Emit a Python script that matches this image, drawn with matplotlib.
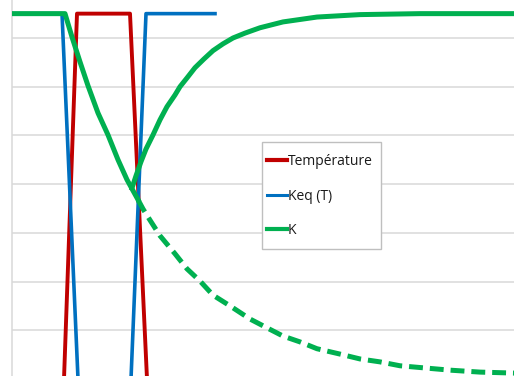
import matplotlib
matplotlib.use("Agg")
import matplotlib.pyplot as plt
from matplotlib.lines import Line2D
from matplotlib.patches import Rectangle

# time axis (arbitrary units) and levels
temp_t = [0, 1.04, 1.30, 2.36, 2.70, 4.06]
temp_v = [0, 0, 7.5, 7.5, 0, 0]

keq_t = [0, 1.00, 1.32, 2.38, 2.68, 4.06]
keq_v = [7.5, 7.5, 0, 0, 7.5, 7.5]

# K: flat, then decay (solid up to the switch)
k_decay_t = [0, 1.00, 1.06, 1.20, 1.36, 1.52, 1.72, 1.92, 2.12, 2.30, 2.52]
k_decay_v = [7.5, 7.5, 7.5, 7.02, 6.51, 6.02, 5.46, 5.01, 4.50, 4.09, 3.68]

# K: decay continued without the switch (dashed)
k_tail_t = [2.52, 2.62, 2.76, 2.96, 3.26, 3.50, 3.76, 4.02, 4.36, 4.76, 5.06,
            5.42, 5.76, 6.10, 6.56, 6.96, 7.36, 7.76, 8.76, 9.36, 10.04, 10.5]
k_tail_v = [3.68, 3.49, 3.26, 2.94, 2.57, 2.26, 2.01, 1.72, 1.50, 1.23, 1.07,
            0.88, 0.76, 0.62, 0.51, 0.41, 0.35, 0.27, 0.18, 0.14, 0.12, 0.11]

# K: recovery after the switch
k_rise_t = [2.40, 2.48, 2.58, 2.68, 2.82, 2.96, 3.10, 3.26, 3.36, 3.50, 3.66,
            3.84, 4.02, 4.22, 4.42, 4.66, 4.96, 5.42, 6.10, 6.96, 8.16, 10.5]
k_rise_v = [3.92, 4.17, 4.46, 4.72, 5.01, 5.32, 5.59, 5.83, 6.00, 6.18, 6.39,
            6.57, 6.74, 6.88, 7.00, 7.10, 7.21, 7.33, 7.43, 7.48, 7.50, 7.50]

labels = ["Température", "Keq (T)", "K"]

RED, BLUE, GREEN, GRID = "#C00000", "#0070C0", "#00B050", "#D9D9D9"


def main():
    plt.rcParams["lines.scale_dashes"] = False
    plt.rcParams["font.family"] = ["Open Sans", "DejaVu Sans"]

    fig = plt.figure(figsize=(5.14, 3.76), dpi=100)
    ax = fig.add_axes([12 / 514, 0, 502 / 514, 1])

    ax.plot(temp_t, temp_v, color=RED, lw=2.8, zorder=3)
    ax.plot(keq_t, keq_v, color=BLUE, lw=2.6, zorder=4)
    ax.plot(k_decay_t, k_decay_v, color=GREEN, lw=3.6, zorder=5)
    ax.plot(k_tail_t, k_tail_v, color=GREEN, lw=3.6, dashes=(10, 5), zorder=5)
    ax.plot(k_rise_t, k_rise_v, color=GREEN, lw=3.6, zorder=5)

    ax.set_xlim(0, 10.04)
    ax.set_ylim(0.06, 7.78)
    ax.set_yticks(range(1, 8))
    ax.set_xticks([])
    ax.tick_params(left=False, labelleft=False)
    ax.grid(axis="y", color=GRID, lw=1.1)
    ax.set_axisbelow(True)
    for s in ("top", "right", "bottom"):
        ax.spines[s].set_visible(False)
    ax.spines["left"].set_color(GRID)
    ax.spines["left"].set_linewidth(1.1)

    # legend frame drawn separately so the padding can match
    fig.patches.append(Rectangle((262 / 514, 1 - 249 / 376), 119 / 514, 107 / 376,
                                 transform=fig.transFigure, facecolor="white",
                                 edgecolor="#BFBFBF", lw=1.0, zorder=6))
    handles = [Line2D([], [], color=RED, lw=3.0),
               Line2D([], [], color=BLUE, lw=2.2),
               Line2D([], [], color=GREEN, lw=3.0)]
    leg = fig.legend(handles, labels, loc="center left",
                     bbox_to_anchor=(267 / 514, 1 - 196 / 376), borderaxespad=0,
                     borderpad=0, frameon=False, fontsize=10,
                     handlelength=1.45, handletextpad=0.05, labelspacing=1.4)
    leg.set_zorder(7)
    for txt in leg.get_texts():
        txt.set_color("#1a1a1a")

    fig.savefig("out.png", dpi=100)


if __name__ == "__main__":
    main()
